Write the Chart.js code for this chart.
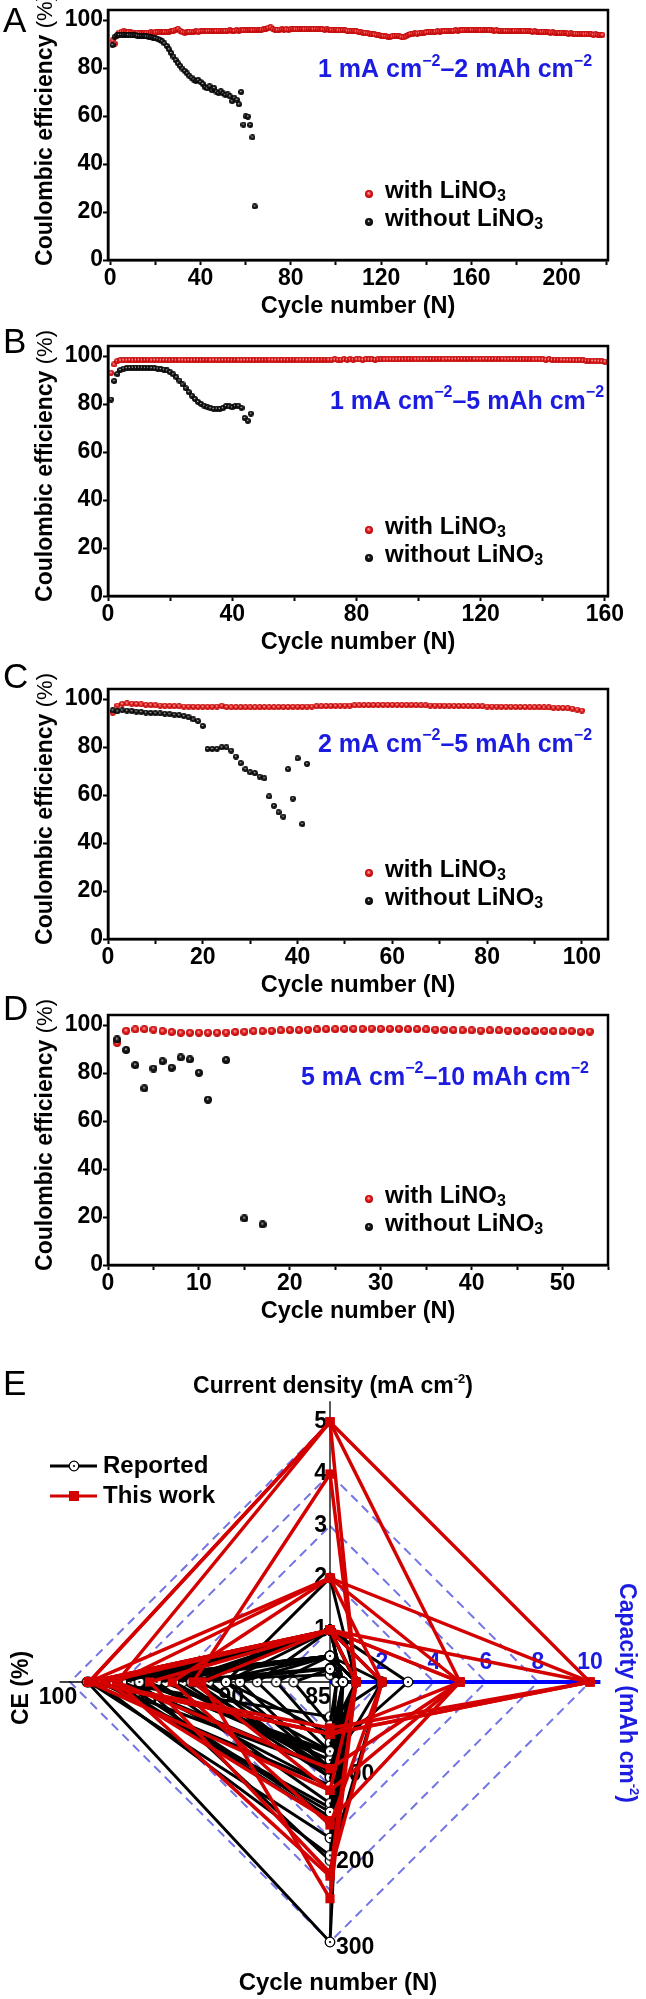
<!DOCTYPE html>
<html>
<head>
<meta charset="utf-8">
<script src="https://cdn.jsdelivr.net/npm/chart.js@4.4.1/dist/chart.umd.min.js"></script>
<style>
  html, body { margin: 0; padding: 0; background: #fff; }
  #page { position: relative; width: 646px; height: 1999px; overflow: hidden; }
  canvas { position: absolute; left: 0; }
</style>
</head>
<body>
<div id="page">
  <canvas id="chartA" width="646" height="345" style="top:-20px"></canvas>
  <canvas id="chartB" width="646" height="345" style="top:316px"></canvas>
  <canvas id="chartC" width="646" height="345" style="top:659px"></canvas>
  <canvas id="chartD" width="646" height="345" style="top:985px"></canvas>
  <canvas id="chartE" width="646" height="649" style="top:1350px"></canvas>
</div>
<script>
const FONT = '"Liberation Sans", Arial, sans-serif';

// ---- A: 1 mA cm-2, 2 mAh cm-2 (CE per cycle, from cycle 1) ----
const aWithCE = [
  91.5, 90.2, 93.5, 94.8, 95.2, 95.3, 95.1, 95.0, 94.9, 94.8,
  94.7, 94.8, 94.7, 94.6, 94.8, 94.7, 94.8, 94.9, 94.8, 94.9,
  95.0, 94.9, 95.0, 95.1, 95.0, 95.2, 95.4, 95.6, 96.0, 96.3,
  95.6, 95.0, 94.8, 95.0, 95.1, 95.2, 95.1, 95.3, 95.2, 95.3,
  95.4, 95.3, 95.4, 95.5, 95.4, 95.5, 95.4, 95.6, 95.5, 95.6,
  95.5, 95.6, 95.7, 95.6, 95.5, 95.7, 95.6, 95.7, 95.8, 95.7,
  95.8, 95.9, 95.8, 95.9, 96.0, 95.9, 96.0, 96.1, 96.4, 96.8,
  97.0, 96.3, 96.0, 95.9, 96.0, 96.1, 96.0, 96.1, 96.0, 96.2,
  96.1, 96.2, 96.1, 96.2, 96.3, 96.2, 96.3, 96.4, 96.3, 96.2,
  96.3, 96.2, 96.1, 96.2, 96.0, 96.1, 96.0, 95.9, 95.8, 95.9,
  95.8, 95.7, 95.9, 95.8, 95.6, 95.5, 95.4, 95.5, 95.3, 95.2,
  95.0, 94.8, 94.7, 94.5, 94.3, 94.1, 94.0, 93.8, 93.6, 93.5,
  93.3, 93.2, 93.1, 93.0, 93.2, 93.4, 93.5, 93.3, 93.0, 92.8,
  93.2, 93.8, 94.2, 94.3, 94.5, 94.4, 94.6, 94.7, 94.8, 94.9,
  95.0, 95.1, 95.0, 95.2, 95.3, 95.2, 95.4, 95.3, 95.5, 95.4,
  95.6, 95.5, 95.7, 95.6, 95.8, 95.7, 95.8, 95.9, 95.8, 95.9,
  95.8, 95.9, 95.8, 95.7, 95.9, 95.8, 95.9, 95.8, 95.7, 95.6,
  95.7, 95.6, 95.5, 95.6, 95.5, 95.4, 95.5, 95.4, 95.5, 95.6,
  95.5, 95.4, 95.5, 95.3, 95.4, 95.3, 95.2, 95.3, 95.1, 95.2,
  95.0, 95.1, 94.9, 95.0, 94.8, 94.9, 94.7, 94.8, 94.6, 94.7,
  94.5, 94.6, 94.4, 94.5, 94.3, 94.4, 94.3, 94.2, 94.3, 94.1,
  94.2, 94.0, 94.1, 93.9, 94.0, 93.8, 93.9, 93.8
];
const aWithoutCE = [
  89.6, 93.0, 93.6, 93.8, 93.9, 93.9, 93.8, 93.8, 93.7, 93.6,
  93.6, 93.5, 93.4, 93.3, 93.3, 93.2, 93.1, 92.9, 92.7, 92.5,
  92.2, 91.8, 91.2, 90.3, 89.2, 87.8, 86.3, 84.8, 83.3, 82.0,
  80.9, 79.8, 78.8, 77.8, 76.8, 76.0, 75.2, 74.6, 75.0, 74.2,
  73.4, 72.0, 71.5, 72.4, 70.8, 71.7, 70.2, 69.6, 70.3, 69.4,
  68.8, 69.0, 68.2, 66.2, 67.6, 66.8, 64.9, 70.0, 56.4, 59.9,
  59.8, 56.3, 51.1, 22.3
];

// ---- B: 1 mA cm-2, 5 mAh cm-2 ----
const bWithCE = [
  93.0, 96.5, 97.9, 98.2, 98.3, 98.3, 98.4, 98.3, 98.4, 98.4,
  98.3, 98.4, 98.4, 98.3, 98.4, 98.4, 98.3, 98.4, 98.4, 98.3,
  98.4, 98.3, 98.4, 98.4, 98.3, 98.4, 98.3, 98.4, 98.4, 98.3,
  98.4, 98.4, 98.3, 98.4, 98.4, 98.3, 98.4, 98.4, 98.4, 98.3,
  98.4, 98.4, 98.3, 98.4, 98.4, 98.4, 98.3, 98.4, 98.4, 98.4,
  98.4, 98.5, 98.4, 98.4, 98.5, 98.4, 98.5, 98.4, 98.5, 98.5,
  98.4, 98.5, 98.5, 98.4, 98.5, 98.5, 98.5, 98.4, 98.5, 98.5,
  98.5, 98.5, 98.6, 98.5, 98.5, 98.6, 98.5, 98.6, 98.5, 98.6,
  98.6, 98.5, 98.6, 98.6, 98.6, 98.5, 98.6, 98.6, 98.6, 98.6,
  98.7, 98.6, 98.6, 98.7, 98.6, 98.7, 98.7, 98.6, 98.7, 98.7,
  98.7, 98.7, 98.7, 98.8, 98.7, 98.7, 98.8, 98.7, 98.8, 98.8,
  98.7, 98.8, 98.8, 98.8, 98.7, 98.8, 98.8, 98.8, 98.8, 98.7,
  98.8, 98.8, 98.7, 98.8, 98.8, 98.7, 98.8, 98.7, 98.7, 98.8,
  98.7, 98.7, 98.6, 98.7, 98.7, 98.6, 98.6, 98.7, 98.6, 98.6,
  98.5, 98.6, 98.5, 98.5, 98.4, 98.5, 98.4, 98.4, 98.3, 98.3,
  98.2, 98.3, 98.2, 98.1, 98.1, 98.0, 97.9, 97.9, 97.8, 97.7
];
const bWithoutCE = [
  81.9, 89.6, 92.5, 94.2, 94.8, 95.0, 95.1, 95.2, 95.2, 95.2,
  95.2, 95.1, 95.1, 95.0, 94.9, 94.8, 94.6, 94.4, 94.0, 93.3,
  92.4, 91.2, 89.8, 88.2, 86.6, 85.0, 83.5, 82.1, 80.9, 80.0,
  79.3, 78.7, 78.3, 78.0, 78.1, 78.0, 78.3, 79.2, 79.0, 78.6,
  79.2, 79.3, 78.4, 74.2, 73.0, 76.0
];

// ---- C: 2 mA cm-2, 5 mAh cm-2 ----
const cWithCE = [
  94.3, 97.3, 98.0, 98.2, 98.1, 98.0, 97.8, 97.6, 97.5, 97.4,
  97.3, 97.2, 97.1, 97.0, 97.0, 96.9, 96.9, 96.8, 96.8, 96.8,
  96.8, 96.8, 96.9, 97.2, 96.7, 96.6, 96.6, 96.6, 96.6, 96.6,
  96.6, 96.6, 96.7, 96.6, 96.6, 96.7, 96.7, 96.7, 96.8, 96.8,
  96.8, 96.9, 96.9, 97.0, 97.0, 97.1, 97.1, 97.2, 97.2, 97.3,
  97.3, 97.4, 97.4, 97.5, 97.5, 97.5, 97.6, 97.6, 97.6, 97.6,
  97.6, 97.6, 97.5, 97.5, 97.5, 97.4, 97.4, 97.3, 97.3, 97.3,
  97.2, 97.2, 97.2, 97.1, 97.1, 97.1, 97.0, 97.0, 97.0, 96.9,
  96.9, 96.9, 96.8, 96.8, 96.8, 96.7, 96.7, 96.7, 96.6, 96.6,
  96.6, 96.5, 96.5, 96.4, 96.4, 96.3, 96.2, 96.0, 95.6, 95.2
];
const cWithoutCE = [
  95.3, 94.9, 95.3, 95.2, 95.0, 94.8, 94.6, 94.4, 94.2, 94.1,
  94.0, 93.9, 93.7, 93.5, 93.3, 92.9, 92.4, 91.5, 90.8, 88.8,
  79.2, 79.2, 79.3, 79.9, 79.9, 78.5, 76.0, 73.3, 70.8, 69.5,
  69.1, 67.7, 67.0, 59.4, 55.5, 52.8, 51.0, 70.8, 58.5, 75.3,
  47.9, 73.0
];

// ---- D: 5 mA cm-2, 10 mAh cm-2 ----
const dWithCE = [
  92.6, 97.6, 98.2, 98.3, 98.1, 97.5, 97.1, 96.8, 96.8, 96.8,
  96.8, 96.8, 96.9, 97.1, 97.2, 97.5, 97.5, 97.6, 97.8, 97.9,
  97.9, 98.1, 98.2, 98.3, 98.3, 98.4, 98.4, 98.4, 98.5, 98.4,
  98.4, 98.4, 98.3, 98.3, 98.2, 98.1, 98.0, 97.9, 97.8, 97.8,
  97.7, 97.8, 97.8, 97.7, 97.6, 97.5, 97.5, 97.6, 97.5, 97.4,
  97.5, 97.2, 97.3
];
const dWithoutCycles = [1, 2, 3, 4, 5, 6, 7, 8, 9, 10, 11, 13, 15, 17];
const dWithoutCE = [94.0, 89.6, 83.3, 73.6, 81.9, 84.9, 82.2, 86.5, 85.7, 80.1, 68.9, 85.4, 19.4, 16.9];

// ---- E: comparison (current density, capacity, cycles, CE) ----
const radarAxes = ['Current density', 'Capacity', 'Cycle number', 'CE'];
const currentTicks = [1, 2, 3, 4, 5];
const capacityTicks = [2, 4, 6, 8, 10];
const cycleTicks = [100, 200, 300];
const ceTicks = [85, 90, 95, 100];

const thisCurrent  = [5, 5, 4, 2, 2, 2, 1, 1, 1, 1, 5, 1];
const thisCapacity = [10, 5, 1, 10, 5, 2, 10, 5, 2, 1, 1, 5];
const thisCycles   = [53, 60, 125, 60, 100, 165, 60, 160, 220, 250, 224, 125];
const thisCE       = [98.9, 98.9, 92.9, 98.9, 97.3, 94.1, 98.9, 98.0, 95.4, 92.4, 97.3, 98.9];

const reportedCurrent  = [1, 1, 0.5, 0.5, 1, 1, 2, 0.5, 1, 1, 0.5, 1, 0.25, 1, 0.5, 1, 0.5, 1, 0.5, 0.25, 1, 0.5, 1, 0.5, 0.27, 1, 0.5, 0.14, 1, 1];
const reportedCapacity = [1, 1, 1, 0.5, 2, 3, 1, 1, 0.5, 1, 0.5, 1, 0.5, 0.5, 1, 1, 0.25, 1, 0.5, 0.25, 2, 1, 1, 2, 0.5, 1, 0.5, 0.25, 1, 0.5];
const reportedCycles   = [100, 150, 200, 300, 100, 80, 100, 160, 120, 90, 140, 100, 100, 80, 110, 60, 100, 80, 70, 50, 40, 145, 156, 206, 90, 180, 120, 83, 110, 105];
const reportedCE       = [98.5, 98, 98.5, 99, 97, 96, 91, 97.5, 96.5, 95.5, 95, 94, 93, 92.5, 92, 91, 90.2, 89.2, 88.1, 87.1, 97.8, 98.2, 97, 96, 94.5, 98.9, 99, 96, 93.5, 92.8];

const RED = '#d81e1e';
const BLUE = '#1c1ce0';

function makeBall(d, stops) {
  const c = document.createElement('canvas');
  c.width = d; c.height = d;
  const g = c.getContext('2d');
  const r = d / 2;
  const grad = g.createRadialGradient(r - r * 0.1, r - r * 0.25, 0, r, r, r);
  stops.forEach(s => grad.addColorStop(s[0], s[1]));
  g.fillStyle = grad;
  g.beginPath(); g.arc(r, r, r, 0, Math.PI * 2); g.fill();
  return c;
}
const redBall = d => makeBall(d, [[0, '#ffe6e6'], [0.22, '#f26a6a'], [0.55, '#dc1c1c'], [1, '#b80000']]);
const blackBall = d => makeBall(d, [[0, '#ffffff'], [0.12, '#bbbbbb'], [0.32, '#222222'], [1, '#000000']]);

function drawRich(ctx, parts, x, y, align) {
  let total = 0;
  parts.forEach(p => { ctx.font = p[1]; total += ctx.measureText(p[0]).width; });
  let cx = align === 'center' ? x - total / 2 : (align === 'right' ? x - total : x);
  ctx.textAlign = 'left';
  parts.forEach(p => {
    ctx.font = p[1];
    ctx.fillText(p[0], cx, y + (p[2] || 0));
    cx += ctx.measureText(p[0]).width;
  });
}

const panelDecor = {
  id: 'panelDecor',
  afterDraw(chart) {
    const o = chart.options.plugins.panelDecor;
    const ctx = chart.ctx;
    const a = chart.chartArea;
    ctx.save();
    ctx.strokeStyle = '#000';
    ctx.lineWidth = 2.5;
    ctx.strokeRect(a.left, a.top, a.right - a.left, a.bottom - a.top);

    ctx.fillStyle = '#000';
    ctx.textBaseline = 'alphabetic';
    ctx.textAlign = 'left';
    ctx.font = '35px ' + FONT;
    ctx.fillText(o.letter, 3, o.letterY - o.top);

    ctx.textBaseline = 'middle';
    ctx.save();
    ctx.translate(46, (a.top + a.bottom) / 2 - 5);
    ctx.rotate(-Math.PI / 2);
    drawRich(ctx, [['Coulombic efficiency ', 'bold 23px ' + FONT], ['(%)', '22px ' + FONT]], 0, 0, 'center');
    ctx.restore();

    ctx.font = 'bold 23.5px ' + FONT;
    ctx.textAlign = 'center';
    ctx.fillText('Cycle number (N)', (a.left + a.right) / 2, a.bottom + 47);

    // legend
    const lx = a.left + 261;
    const rb = redBall(8), bb = blackBall(8);
    ctx.drawImage(rb, lx - 4, a.bottom - 66 - 4);
    ctx.drawImage(bb, lx - 4, a.bottom - 38 - 4);
    drawRich(ctx, [['with LiNO', 'bold 24px ' + FONT], ['3', 'bold 16px ' + FONT, 6]], lx + 16, a.bottom - 69, 'left');
    drawRich(ctx, [['without LiNO', 'bold 24px ' + FONT], ['3', 'bold 16px ' + FONT, 6]], lx + 16, a.bottom - 41, 'left');

    // condition
    ctx.fillStyle = BLUE;
    const sup = 'bold 16px ' + FONT, main = 'bold 25px ' + FONT;
    drawRich(ctx, [[o.cond[0], main], [o.cond[1], sup, -9], [o.cond[2], main], [o.cond[3], sup, -9]],
      a.left + o.condX, a.bottom - o.condY, 'center');
    ctx.restore();
  }
};

const tickFont = { family: FONT, size: 23, weight: 'bold' };

function makePanel(p) {
  const withData = p.withCE.map((v, i) => ({ x: i + 1, y: v }));
  const withoutData = p.withoutCE.map((v, i) => ({ x: p.withoutCycles ? p.withoutCycles[i] : i + 1, y: v }));
  new Chart(document.getElementById(p.id), {
    type: 'scatter',
    data: {
      datasets: [
        { label: 'with LiNO3', data: withData, pointStyle: redBall(p.ball), pointRadius: 3, order: 1 },
        { label: 'without LiNO3', data: withoutData, pointStyle: blackBall(p.ball), pointRadius: 3, order: 0 }
      ]
    },
    options: {
      responsive: false,
      animation: false,
      events: [],
      layout: { padding: { left: 0, right: 38, top: 30, bottom: 0 } },
      plugins: {
        legend: { display: false },
        tooltip: { enabled: false },
        panelDecor: p
      },
      scales: {
        x: {
          type: 'linear',
          min: p.xMin, max: p.xMax,
          grid: { drawOnChartArea: false, drawTicks: true, tickLength: 5, tickWidth: 2, tickColor: '#000' },
          border: { display: true, color: '#000', width: 2.5 },
          ticks: {
            stepSize: p.xStep, includeBounds: false, autoSkip: false, maxRotation: 0, padding: 0,
            color: '#000', font: tickFont,
            callback: v => (v % p.xMajor === 0 ? v : '')
          },
          afterFit(s) { s.height = 65; }
        },
        y: {
          min: 0, max: 104.2,
          grid: { drawOnChartArea: false, drawTicks: true, tickLength: 5, tickWidth: 2, tickColor: '#000' },
          border: { display: true, color: '#000', width: 2.5 },
          ticks: {
            stepSize: 10, includeBounds: false, padding: 0,
            color: '#000', font: tickFont,
            callback: v => (v % 20 === 0 ? v : '')
          },
          afterFit(s) { s.width = 108; }
        }
      }
    },
    plugins: [panelDecor]
  });
}

makePanel({ id: 'chartA', letter: 'A', top: -20, letterY: 32, xMin: -1, xMax: 220.5, xStep: 20, xMajor: 40,
  withCE: aWithCE, withoutCE: aWithoutCE, ball: 6,
  cond: ['1 mA cm', '\u22122', '\u20132 mAh cm', '\u22122'], condX: 347, condY: 189.5 });
makePanel({ id: 'chartB', letter: 'B', top: 316, letterY: 353, xMin: 0, xMax: 161, xStep: 20, xMajor: 40,
  withCE: bWithCE, withoutCE: bWithoutCE, ball: 6,
  cond: ['1 mA cm', '\u22122', '\u20135 mAh cm', '\u22122'], condX: 359, condY: 194 });
makePanel({ id: 'chartC', letter: 'C', top: 659, letterY: 688, xMin: 0, xMax: 105.5, xStep: 10, xMajor: 20,
  withCE: cWithCE, withoutCE: cWithoutCE, ball: 6,
  cond: ['2 mA cm', '\u22122', '\u20135 mAh cm', '\u22122'], condX: 347, condY: 194 });
makePanel({ id: 'chartD', letter: 'D', top: 985, letterY: 1020, xMin: 0, xMax: 55, xStep: 5, xMajor: 10,
  withCE: dWithCE, withoutCE: dWithoutCE, withoutCycles: dWithoutCycles, ball: 8,
  cond: ['5 mA cm', '\u22122', '\u201310 mAh cm', '\u22122'], condX: 337, condY: 187 });

// ---- E: radar comparison ----
const currentMax = 5, capacityMax = 10, cycleMax = 300, ceMin = 85, ceMax = 100;
const ERED = '#d40000';

function openCircle() {
  const c = document.createElement('canvas');
  c.width = 12; c.height = 12;
  const g = c.getContext('2d');
  g.fillStyle = '#fff'; g.strokeStyle = '#000'; g.lineWidth = 1.3;
  g.beginPath(); g.arc(6, 6, 4.8, 0, Math.PI * 2); g.fill(); g.stroke();
  g.fillStyle = '#000';
  g.beginPath(); g.arc(6, 6, 1.1, 0, Math.PI * 2); g.fill();
  return c;
}
const circleIcon = openCircle();

const radarSets = [];
thisCurrent.forEach((cd, i) => radarSets.push({
  label: 'This work',
  data: [cd / currentMax, thisCapacity[i] / capacityMax, thisCycles[i] / cycleMax, (thisCE[i] - ceMin) / (ceMax - ceMin)],
  borderColor: ERED, borderWidth: 3.5, fill: false,
  pointStyle: 'rect', pointRadius: 6.5, pointBackgroundColor: ERED, pointBorderColor: ERED, pointBorderWidth: 0
}));
reportedCurrent.forEach((cd, i) => radarSets.push({
  label: 'Reported',
  data: [cd / currentMax, reportedCapacity[i] / capacityMax, reportedCycles[i] / cycleMax, (reportedCE[i] - ceMin) / (ceMax - ceMin)],
  borderColor: '#000', borderWidth: 3, fill: false,
  pointStyle: circleIcon, pointRadius: 5
}));

function seg(ctx, p, q) { ctx.beginPath(); ctx.moveTo(p.x, p.y); ctx.lineTo(q.x, q.y); ctx.stroke(); }

const radarDecor = {
  id: 'radarDecor',
  beforeDatasetsDraw(chart) {
    const r = chart.scales.r;
    const ctx = chart.ctx;
    const c = r.getPointPositionForValue(0, 0);
    ctx.save();
    ctx.strokeStyle = '#000'; ctx.lineWidth = 1.3;
    seg(ctx, r.getPointPositionForValue(0, 1.08), r.getPointPositionForValue(2, 1.0));
    seg(ctx, c, r.getPointPositionForValue(3, 1.04));
    ctx.strokeStyle = '#0000ff'; ctx.lineWidth = 4;
    seg(ctx, c, r.getPointPositionForValue(1, 1.04));

    ctx.font = 'bold 23px ' + FONT;
    ctx.textBaseline = 'middle';
    ctx.fillStyle = '#000';
    ctx.textAlign = 'right';
    currentTicks.forEach(v => { const p = r.getPointPositionForValue(0, v / currentMax); ctx.fillText(String(v), p.x - 3, p.y); });
    ctx.textAlign = 'left';
    cycleTicks.forEach(v => { const p = r.getPointPositionForValue(2, v / cycleMax); ctx.fillText(String(v), p.x + 6, p.y + 6); });
    ctx.textAlign = 'center';
    ceTicks.forEach(v => { const p = r.getPointPositionForValue(3, (v - ceMin) / (ceMax - ceMin)); ctx.fillText(String(v), p.x - 12, p.y + 16); });
    ctx.fillStyle = BLUE;
    capacityTicks.forEach(v => { const p = r.getPointPositionForValue(1, v / capacityMax); ctx.fillText(String(v), p.x, p.y - 19); });
    ctx.restore();
  },
  afterDraw(chart) {
    const ctx = chart.ctx;
    ctx.save();
    ctx.fillStyle = '#000';
    ctx.textBaseline = 'alphabetic';
    ctx.textAlign = 'left';
    ctx.font = '35px ' + FONT;
    ctx.fillText('E', 3, 45);

    ctx.textBaseline = 'middle';
    drawRich(ctx, [['Current density (mA cm', 'bold 23px ' + FONT], ['-2', 'bold 13px ' + FONT, -8], [')', 'bold 23px ' + FONT]], 333, 37, 'center');
    ctx.font = 'bold 24px ' + FONT;
    ctx.textAlign = 'center';
    ctx.fillText('Cycle number (N)', 338, 633);

    ctx.save();
    ctx.translate(22, 338);
    ctx.rotate(-Math.PI / 2);
    ctx.font = 'bold 23px ' + FONT;
    ctx.fillText('CE (%)', 0, 0);
    ctx.restore();

    ctx.save();
    ctx.translate(626, 343);
    ctx.rotate(Math.PI / 2);
    ctx.fillStyle = BLUE;
    drawRich(ctx, [['Capacity (mAh cm', 'bold 23px ' + FONT], ['-2', 'bold 13px ' + FONT, -8], [')', 'bold 23px ' + FONT]], 0, 0, 'center');
    ctx.restore();

    // legend
    ctx.lineWidth = 3;
    ctx.strokeStyle = '#000';
    seg(ctx, { x: 50, y: 116 }, { x: 97, y: 116 });
    ctx.drawImage(circleIcon, 74 - 6, 116 - 6);
    ctx.strokeStyle = ERED;
    seg(ctx, { x: 50, y: 146 }, { x: 97, y: 146 });
    ctx.fillStyle = ERED;
    ctx.fillRect(74 - 5, 146 - 5, 10, 10);
    ctx.fillStyle = '#000';
    ctx.font = 'bold 24px ' + FONT;
    ctx.textAlign = 'left';
    ctx.fillText('Reported', 103, 116);
    ctx.fillText('This work', 103, 146);
    ctx.restore();
  }
};

new Chart(document.getElementById('chartE'), {
  type: 'radar',
  data: { labels: radarAxes, datasets: radarSets },
  options: {
    responsive: false,
    animation: false,
    events: [],
    layout: { padding: { left: 70, right: 56, top: 72, bottom: 57 } },
    elements: { line: { tension: 0 } },
    plugins: { legend: { display: false }, tooltip: { enabled: false } },
    scales: {
      r: {
        min: 0, max: 1,
        ticks: { display: false, stepSize: 0.2 },
        pointLabels: { display: false },
        angleLines: { display: false },
        grid: { color: '#7373e6', lineWidth: 2 },
        border: { dash: [9, 6] }
      }
    }
  },
  plugins: [radarDecor]
});
</script>
</body>
</html>
